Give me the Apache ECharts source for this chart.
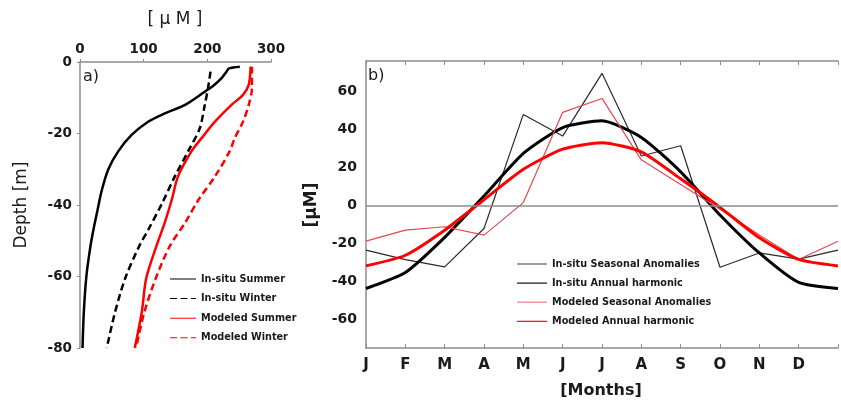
<!DOCTYPE html>
<html>
<head>
<meta charset="utf-8">
<script src="https://cdn.jsdelivr.net/npm/echarts@6/dist/echarts.min.js"></script>
<style>
  html, body { margin: 0; padding: 0; background: #fff; }
  #chart { width: 841px; height: 406px; }
</style>
</head>
<body>
<div id="chart"></div>
<script>
// Panel a: vertical profiles, pairs of [concentration µM, depth m]
const insituSummer = [
  [251, -1.3], [234, -1.8], [230, -2.7], [222, -4.6], [209, -6.7], [196, -8.3],
  [165, -12], [133, -14.4], [107, -16.7], [81, -20.4], [60, -25], [44.5, -30],
  [34, -36], [28, -41], [21, -47], [16, -52], [10, -60], [6, -70], [4, -80]
];
const insituWinter = [
  [205, -2.7], [201, -7.4], [196, -12], [188, -18.6], [171, -24.6], [149, -32],
  [129, -39.5], [107, -47], [93, -51.5], [71, -60.5], [55, -70], [42, -80]
];
const modeledSummer = [
  [268, -1.3], [265, -6.4], [256, -9.2], [238, -12], [212, -16.7], [191, -21.3],
  [175, -25], [154, -32], [144, -38.6], [133, -45], [120, -51.5], [104, -60.5],
  [97, -70], [86, -80]
];
const modeledWinter = [
  [270, -1.3], [270, -7.4], [265, -12], [256, -16.7], [243, -21.3], [235, -25],
  [212, -32], [186, -38.6], [165, -45], [141, -51.5], [119, -60.5], [101, -70],
  [88, -80]
];

// Panel b: monthly values, January repeated at the end of the cycle
const months = ['J', 'F', 'M', 'A', 'M', 'J', 'J', 'A', 'S', 'O', 'N', 'D'];
const insituSeasonal = [-23.5, -28.5, -32.3, -12.1, 47.9, 36.5, 69.5, 26, 31.4, -32.5, -25, -28.2, -23.5];
const insituHarmonic = [-43.7, -35.3, -16.8, 5, 27.4, 41, 44.5, 35.8, 17.7, -5, -25, -40.5, -43.7];
const modeledSeasonal = [-18.8, -13, -11.2, -15.6, 1.5, 49, 56.3, 24, 11, -2, -15.5, -28.4, -18.8];
const modeledHarmonic = [-31.8, -26.2, -13, 3, 19, 29.6, 33, 28.2, 14, -1, -17, -28.4, -31.8];

const depthTicks = [0, 100, 200, 300];
const anomalyLabels = [-60, -40, -20, 0, 20, 40, 60];

const FONT = 'DejaVu Sans';
const AXIS_GRAY = '#8c8c8c';
const TEXT = '#1a1a1a';

// legend keys: plain bar for solid lines, three dashes for dashed lines
const SOLID_KEY = 'path://M0,0H26V1H0Z';
const DASHED_KEY = 'path://M0,0H7V1H0Z M10.5,0H17.5V1H10.5Z M21,0H26V1H21Z';

const monthPairs = arr => arr.map((v, i) => [i, v]);

const chart = echarts.init(document.getElementById('chart'), null, { renderer: 'canvas' });

const legendText = { color: TEXT, fontFamily: FONT, fontWeight: 'bold', fontSize: 9.7, lineHeight: 12 };

const option = {
  backgroundColor: '#ffffff',
  animation: false,
  textStyle: { fontFamily: FONT },
  grid: [
    { left: 80, top: 62, width: 191, height: 286 },
    { left: 366, top: 61, right: 0, height: 287 }
  ],
  xAxis: [
    {
      gridIndex: 0, type: 'value', position: 'top',
      min: depthTicks[0], max: depthTicks[depthTicks.length - 1], interval: 100,
      axisLine: { show: true, lineStyle: { color: AXIS_GRAY, width: 1.5 } },
      axisTick: { show: true, length: 3, lineStyle: { color: AXIS_GRAY } },
      axisLabel: { color: TEXT, fontFamily: FONT, fontWeight: 'bold', fontSize: 13.5, margin: 6 },
      splitLine: { show: false }
    },
    {
      gridIndex: 1, type: 'value', position: 'bottom',
      min: 0, max: 12, interval: 1,
      axisLine: { show: true, onZero: false, lineStyle: { color: AXIS_GRAY, width: 1.5 } },
      axisTick: { show: true, inside: true, length: 4, lineStyle: { color: AXIS_GRAY } },
      axisLabel: {
        color: TEXT, fontFamily: FONT, fontWeight: 'bold', fontSize: 15, margin: 10,
        formatter: v => (v < 12 ? months[v] : '')
      },
      splitLine: { show: false }
    },
    {
      gridIndex: 1, type: 'value', position: 'top',
      min: 0, max: 12, interval: 1,
      axisLine: { show: true, onZero: false, lineStyle: { color: AXIS_GRAY, width: 1.5 } },
      axisTick: { show: true, inside: true, length: 4, lineStyle: { color: AXIS_GRAY } },
      axisLabel: { show: false },
      splitLine: { show: false }
    }
  ],
  yAxis: [
    {
      gridIndex: 0, type: 'value', min: -80, max: 0, interval: 20,
      axisLine: { show: true, onZero: false, lineStyle: { color: AXIS_GRAY, width: 1.5 } },
      axisTick: { show: true, length: 3, lineStyle: { color: AXIS_GRAY } },
      axisLabel: { color: TEXT, fontFamily: FONT, fontWeight: 'bold', fontSize: 13.5, margin: 8 },
      splitLine: { show: false }
    },
    {
      gridIndex: 1, type: 'value', min: -75, max: 76, interval: 5,
      axisLine: { show: true, onZero: false, lineStyle: { color: AXIS_GRAY, width: 1.5 } },
      axisTick: { show: false },
      axisLabel: {
        color: TEXT, fontFamily: FONT, fontWeight: 'bold', fontSize: 14, margin: 9,
        formatter: v => (anomalyLabels.indexOf(v) >= 0 ? String(v) : '')
      },
      splitLine: { show: false }
    }
  ],
  legend: [
    {
      orient: 'vertical', left: 165, top: 268,
      itemWidth: 26, itemHeight: 2.8, itemGap: 7.6,
      textStyle: legendText,
      data: [
        { name: 'In-situ Summer', icon: SOLID_KEY },
        { name: 'In-situ Winter', icon: DASHED_KEY },
        { name: 'Modeled Summer', icon: SOLID_KEY },
        { name: 'Modeled Winter', icon: DASHED_KEY }
      ]
    },
    {
      orient: 'vertical', left: 512, top: 253,
      itemWidth: 30, itemHeight: 2.5, itemGap: 7.1,
      textStyle: legendText,
      data: [
        { name: 'In-situ Seasonal Anomalies', icon: SOLID_KEY, itemStyle: { color: '#555555' } },
        { name: 'In-situ Annual harmonic', icon: SOLID_KEY },
        { name: 'Modeled Seasonal Anomalies', icon: SOLID_KEY, itemStyle: { color: '#ee7c82' } },
        { name: 'Modeled Annual harmonic', icon: SOLID_KEY }
      ]
    }
  ],
  graphic: [
    { type: 'text', x: 175, y: 20, style: { text: '[ \u03bc M ]', font: '17px "DejaVu Sans"', fill: TEXT, align: 'center', verticalAlign: 'middle' } },
    { type: 'text', x: 22, y: 205, rotation: Math.PI / 2, style: { text: 'Depth [m]', font: '17px "DejaVu Sans"', fill: TEXT, align: 'center', verticalAlign: 'middle' } },
    { type: 'text', x: 83, y: 77, style: { text: 'a)', font: '16px "DejaVu Sans"', fill: TEXT, align: 'left', verticalAlign: 'middle' } },
    { type: 'text', x: 368, y: 76, style: { text: 'b)', font: '16px "DejaVu Sans"', fill: TEXT, align: 'left', verticalAlign: 'middle' } },
    { type: 'text', x: 312, y: 205, rotation: Math.PI / 2, style: { text: '[\u03bcM]', font: 'bold 17px "DejaVu Sans"', fill: TEXT, align: 'center', verticalAlign: 'middle' } },
    { type: 'text', x: 601, y: 391, style: { text: '[Months]', font: 'bold 16px "DejaVu Sans"', fill: TEXT, align: 'center', verticalAlign: 'middle' } }
  ],
  series: [
    {
      name: 'In-situ Summer', type: 'line', xAxisIndex: 0, yAxisIndex: 0,
      data: insituSummer, showSymbol: false, symbol: 'none', smooth: 0.3,
      lineStyle: { color: '#000000', width: 2.5, type: 'solid' }, itemStyle: { color: '#000000' }
    },
    {
      name: 'In-situ Winter', type: 'line', xAxisIndex: 0, yAxisIndex: 0,
      data: insituWinter, showSymbol: false, symbol: 'none', smooth: 0.3,
      lineStyle: { color: '#000000', width: 2.5, type: [7, 4] }, itemStyle: { color: '#000000' }
    },
    {
      name: 'Modeled Summer', type: 'line', xAxisIndex: 0, yAxisIndex: 0,
      data: modeledSummer, showSymbol: false, symbol: 'none', smooth: 0.3,
      lineStyle: { color: '#ff0000', width: 2.5, type: 'solid' }, itemStyle: { color: '#ff0000' }
    },
    {
      name: 'Modeled Winter', type: 'line', xAxisIndex: 0, yAxisIndex: 0,
      data: modeledWinter, showSymbol: false, symbol: 'none', smooth: 0.3,
      lineStyle: { color: '#ff0000', width: 2.5, type: [7, 4] }, itemStyle: { color: '#ff0000' }
    },
    {
      name: 'In-situ Seasonal Anomalies', type: 'line', xAxisIndex: 1, yAxisIndex: 1,
      data: monthPairs(insituSeasonal), showSymbol: false, symbol: 'none',
      lineStyle: { color: '#2a2a2a', width: 1.2 }, itemStyle: { color: '#2a2a2a' },
      markLine: {
        silent: true, symbol: 'none', label: { show: false },
        lineStyle: { color: '#8c8c8c', width: 1.5, type: 'solid' },
        data: [{ yAxis: 0 }]
      }
    },
    {
      name: 'In-situ Annual harmonic', type: 'line', xAxisIndex: 1, yAxisIndex: 1,
      data: monthPairs(insituHarmonic), showSymbol: false, symbol: 'none', smooth: 0.2,
      lineStyle: { color: '#000000', width: 3 }, itemStyle: { color: '#000000' }
    },
    {
      name: 'Modeled Seasonal Anomalies', type: 'line', xAxisIndex: 1, yAxisIndex: 1,
      data: monthPairs(modeledSeasonal), showSymbol: false, symbol: 'none',
      lineStyle: { color: '#e8464f', width: 1.2 }, itemStyle: { color: '#e8464f' }
    },
    {
      name: 'Modeled Annual harmonic', type: 'line', xAxisIndex: 1, yAxisIndex: 1,
      data: monthPairs(modeledHarmonic), showSymbol: false, symbol: 'none', smooth: 0.2,
      lineStyle: { color: '#ff0000', width: 3 }, itemStyle: { color: '#ff0000' }
    }
  ]
};

chart.setOption(option);
</script>
</body>
</html>
